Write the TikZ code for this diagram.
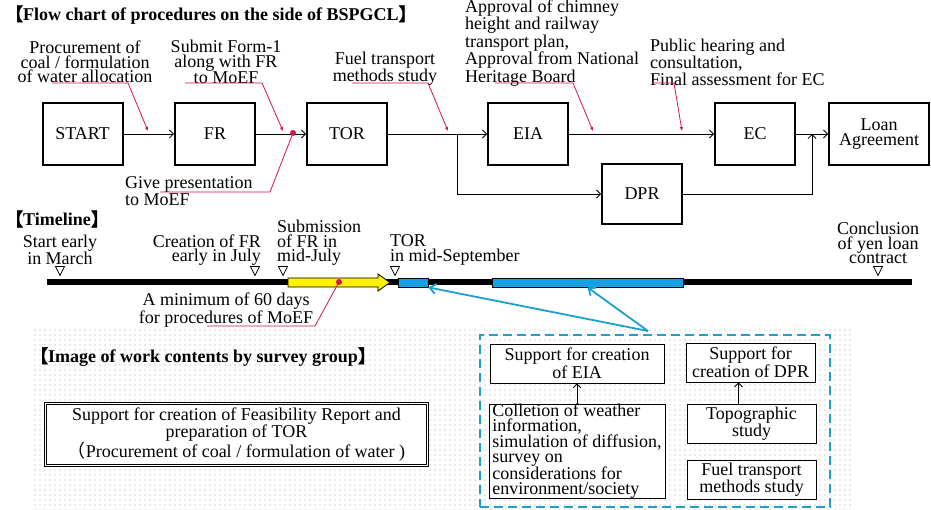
\documentclass[tikz,border=0pt]{standalone}
\usepackage{fontspec}
\setmainfont{Liberation Serif}
\newfontfamily\cjkb[FakeBold=2]{Noto Sans CJK JP}
\newfontfamily\cjkr{Noto Sans CJK JP}
\usetikzlibrary{arrows.meta,patterns.meta,calc}
\definecolor{annred}{RGB}{215,20,75}
\definecolor{barblue}{RGB}{20,160,225}
\definecolor{lineblue}{RGB}{30,160,205}
\tikzdeclarepattern{name=bgdots,type=uncolored,bounding box={(-1pt,-1pt) and (1pt,1pt)},tile size={(5pt,5pt)},code={\fill (0pt,0pt) circle (0.55pt);}}
\tikzset{
  txt/.style={inner sep=0pt, font=\fontsize{18}{14.5}\selectfont},
  flowbox/.style={draw, line width=2pt, fill=white, minimum width=80pt, minimum height=62pt, inner sep=0pt, align=center, font=\fontsize{18}{14.5}\selectfont},
  smallbox/.style={draw, line width=0.8pt, fill=white, inner sep=0pt, align=center, font=\fontsize{18}{14.5}\selectfont},
  flow/.style={-{Straight Barb[length=4pt,width=8pt]}, line width=0.8pt},
  ann/.style={annred, line width=0.8pt, -{Latex[length=4pt,width=3.5pt]}},
  annplain/.style={annred, line width=0.8pt},
  bluearr/.style={lineblue, line width=1.8pt, -{Straight Barb[length=6pt,width=10pt]}},
  tri/.pic={\draw[line width=0.7pt] (-4.5,-4.5) -- (4.5,-4.5) -- (0,4.5) -- cycle;}
}
\begin{document}
\begin{tikzpicture}[x=1pt,y=-1pt]
\useasboundingbox (0,0) rectangle (931,510);
\fill[white] (0,0) rectangle (931,510);

% ---------- Flow chart ----------
\node[txt, anchor=west] (title1) at (5,15) {{\cjkb 【}\textbf{Flow chart of procedures on the side of BSPGCL}{\cjkb 】}};

\node[flowbox] (start) at (82.5,134) {START};
\node[flowbox] (fr) at (215,134) {FR};
\node[flowbox] (tor) at (347,134) {TOR};
\node[flowbox] (eia) at (528,134) {EIA};
\node[flowbox] (ec) at (755,134) {EC};
\node[flowbox, minimum width=100pt] (loan) at (879,134) {Loan\\Agreement};
\node[flowbox, minimum height=60pt] (dpr) at (642,194) {DPR};

\coordinate (j1) at (457,134);
\coordinate (j2) at (812,134);
\draw[flow] (start) -- (fr);
\draw[flow] (fr) -- (tor);
\draw[flow] (tor) -- (eia);
\draw[flow] (j1) |- (dpr);
\draw[flow] (eia) -- (ec);
\draw[flow] (ec) -- (loan);
\draw[flow] (dpr.east) -| (j2);

% annotations
\node[txt, align=center] (a1) at (85,62) {Procurement of\\coal / formulation\\of water allocation};
\node[txt, align=center] (a2) at (226,62) {Submit Form-1\\along with FR\\to MoEF};
\node[txt, align=center] (a3) at (385,69) {Fuel transport\\methods study};
\node[txt, align=left, anchor=west] (a4) at (465,43) {Approval of chimney\\height and railway\\transport plan,\\Approval from National\\Heritage Board};
\node[txt, align=left, anchor=west] (a5) at (650,62) {Public hearing and\\consultation,\\Final assessment for EC};
\node[txt, align=left, anchor=west] (a6) at (125,191) {Give presentation\\to MoEF};

\coordinate (u1a) at (52,83);  \coordinate (u1b) at (128,83);  \coordinate (t1) at (148,131);
\coordinate (u2a) at (185,83); \coordinate (u2b) at (262,83);  \coordinate (t2) at (283,131);
\coordinate (u3a) at (352,83); \coordinate (u3b) at (428,83);  \coordinate (t3) at (448,131);
\coordinate (u4a) at (495,83); \coordinate (u4b) at (573,83);  \coordinate (t4) at (593,131);
\coordinate (u5a) at (652,83); \coordinate (u5b) at (674,83);  \coordinate (t5) at (682,131);
\coordinate (u6a) at (160,192);\coordinate (u6b) at (270,192); \coordinate (d1) at (293,133);
\draw[ann] (u1a) -- (u1b) -- (t1);
\draw[ann] (u2a) -- (u2b) -- (t2);
\draw[ann] (u3a) -- (u3b) -- (t3);
\draw[ann] (u4a) -- (u4b) -- (t4);
\draw[ann] (u5a) -- (u5b) -- (t5);
\draw[annplain] (u6a) -- (u6b) -- (d1);
\fill[annred] (d1) circle (3);

% ---------- Timeline ----------
\node[txt, anchor=west] (title2) at (5,219) {{\cjkb 【}\textbf{Timeline}{\cjkb 】}};

\coordinate (tl0) at (47,282);
\coordinate (tl1) at (912,282);
\draw[line width=6pt] (tl0) -- (tl1);

\fill[pattern=bgdots, pattern color=black!35] (33,328) rectangle (853,510);

\draw[fill=yellow, line width=0.8pt] (288,278) -- (378,278) -- (378,274) -- (390,282.5) -- (378,291) -- (378,287) -- (288,287) -- cycle;
\node[draw, fill=barblue, line width=0.8pt, minimum width=30pt, minimum height=9pt, inner sep=0pt] (torbar) at (413,282.5) {};
\node[draw, fill=barblue, line width=0.8pt, minimum width=191pt, minimum height=9pt, inner sep=0pt] (bigbar) at (587.5,282.5) {};

\node[txt, align=center] (l1) at (60,250) {Start early\\in March};
\node[txt, align=right, anchor=east] (l2) at (261,250) {Creation of FR\\early in July};
\node[txt, align=left, anchor=west] (l3) at (277,243) {Submission\\of FR in\\mid-July};
\node[txt, align=left, anchor=west] (l4) at (390,250) {TOR\\in mid-September};
\node[txt, align=center] (l5) at (878,243) {Conclusion\\of yen loan\\contract};
\pic at (60,271) {tri};
\pic at (255,271) {tri};
\pic at (283,271) {tri};
\pic at (395,271) {tri};
\pic at (878,271) {tri};

\node[txt, align=center] (m1) at (226,310) {A minimum of 60 days\\for procedures of MoEF};
\coordinate (d2) at (339,282);
\coordinate (u7a) at (207,326); \coordinate (u7b) at (315,326);
\draw[annplain] (u7a) -- (u7b) -- (d2);
\fill[annred] (d2) circle (3);

% ---------- Work contents ----------
\node[txt, anchor=west] (title3) at (30,357) {{\cjkb 【}\textbf{Image of work contents by survey group}{\cjkb 】}};

\node[draw, double, double distance=1pt, line width=1.2pt, fill=white, minimum width=382pt, minimum height=62pt, inner sep=0pt, align=center, font=\fontsize{18}{14.5}\selectfont] (fsr) at (236.5,434.5) {Support for creation of Feasibility Report and\\preparation of TOR\\{\cjkr （}Procurement of coal / formulation of water )};

\node[draw=lineblue, line width=2.5pt, dash pattern=on 9pt off 5pt, minimum width=350pt, minimum height=172pt, inner sep=0pt] (grp) at (655,421) {};

\node[smallbox, minimum width=174pt, minimum height=39pt] (seia) at (577,363.5) {Support for creation\\of EIA};
\node[smallbox, minimum width=176pt, minimum height=90pt, align=left] (coll) at (577,451) {Colletion of weather\\information,\\simulation of diffusion,\\survey on\\considerations for\\environment/society};
\node[smallbox, minimum width=129pt, minimum height=39pt] (sdpr) at (750.5,362.5) {Support for\\creation of DPR};
\node[smallbox, minimum width=129pt, minimum height=39pt] (topo) at (751.5,423.5) {Topographic\\study};
\node[smallbox, minimum width=129pt, minimum height=39pt] (fuel) at (751.5,479.5) {Fuel transport\\methods study};

\draw[flow] (coll.north) -- (seia.south);
\draw[flow] ($(topo.north)+(-13,0)$) -- ($(sdpr.south)+(-12,0)$);

\coordinate (src) at (648,331);
\draw[bluearr] (src) -- (torbar.south east);
\draw[bluearr] (src) -- (bigbar.south);
\end{tikzpicture}
\end{document}
